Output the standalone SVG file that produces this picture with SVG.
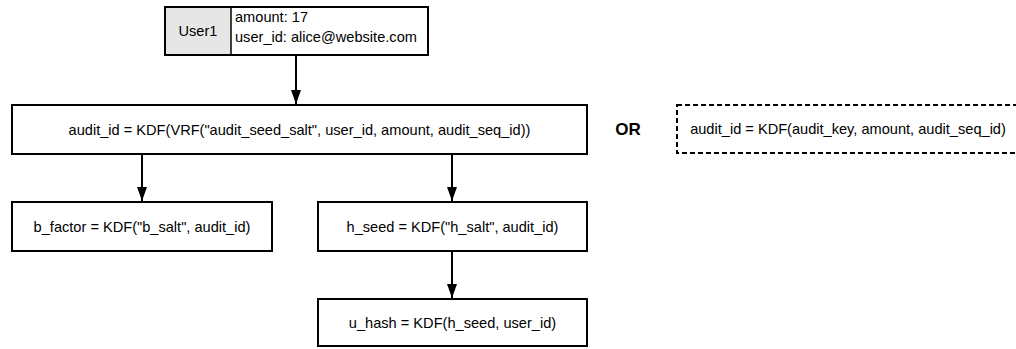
<svg xmlns="http://www.w3.org/2000/svg" width="1016" height="349" viewBox="0 0 1016 349">
<defs>
<style>
text{font-family:"Liberation Sans",Arial,sans-serif;font-size:14.6px;fill:#000}
.box{fill:#fff;stroke:#000;stroke-width:2}
.dash{fill:#fff;stroke:#000;stroke-width:2;stroke-dasharray:5 3}
.c{text-anchor:middle;dominant-baseline:central}
.edge{stroke:#000;stroke-width:2;fill:none;marker-end:url(#ah)}
</style>
<marker id="ah" viewBox="0 0 10 10" refX="10" refY="5" markerWidth="14" markerHeight="10" markerUnits="userSpaceOnUse" orient="auto" preserveAspectRatio="none">
<path d="M0,0 L10,5 L0,10 z" fill="#000"/>
</marker>
</defs>
<rect width="1016" height="349" fill="#fff"/>
<g id="connectors">
<line class="edge" x1="296" y1="56" x2="296" y2="104"/>
<line class="edge" x1="142" y1="154" x2="142" y2="201"/>
<line class="edge" x1="452" y1="154" x2="452" y2="201"/>
<line class="edge" x1="452" y1="251" x2="452" y2="298"/>
</g>
<g id="user1">
<rect class="box" x="165" y="7" width="263" height="48"/>
<rect x="166" y="8" width="65" height="46" fill="#e6e6e6"/>
<line x1="231" y1="7" x2="231" y2="55" stroke="#000" stroke-width="1.5"/>
<text class="c" x="198" y="31">User1</text>
<text x="235" y="22">amount: 17</text>
<text x="235" y="42">user_id: alice@website.com</text>
</g>
<g id="audit">
<rect class="box" x="12" y="105" width="575" height="49"/>
<text class="c" x="299.5" y="129.5">audit_id = KDF(VRF("audit_seed_salt", user_id, amount, audit_seq_id))</text>
</g>
<g id="or">
<text class="c" x="628" y="129" style="font-weight:bold;font-size:17px">OR</text>
</g>
<g id="audit-alt">
<rect class="dash" x="677" y="105" width="345" height="48"/>
<text class="c" x="848" y="129">audit_id = KDF(audit_key, amount, audit_seq_id)</text>
</g>
<g id="bfactor">
<rect class="box" x="12" y="202" width="260" height="49"/>
<text class="c" x="142" y="226.5">b_factor = KDF("b_salt", audit_id)</text>
</g>
<g id="hseed">
<rect class="box" x="318" y="202" width="269" height="49"/>
<text class="c" x="452.5" y="226.5">h_seed = KDF("h_salt", audit_id)</text>
</g>
<g id="uhash">
<rect class="box" x="318" y="299" width="269" height="47"/>
<text class="c" x="452.5" y="322.5">u_hash = KDF(h_seed, user_id)</text>
</g>
</svg>
